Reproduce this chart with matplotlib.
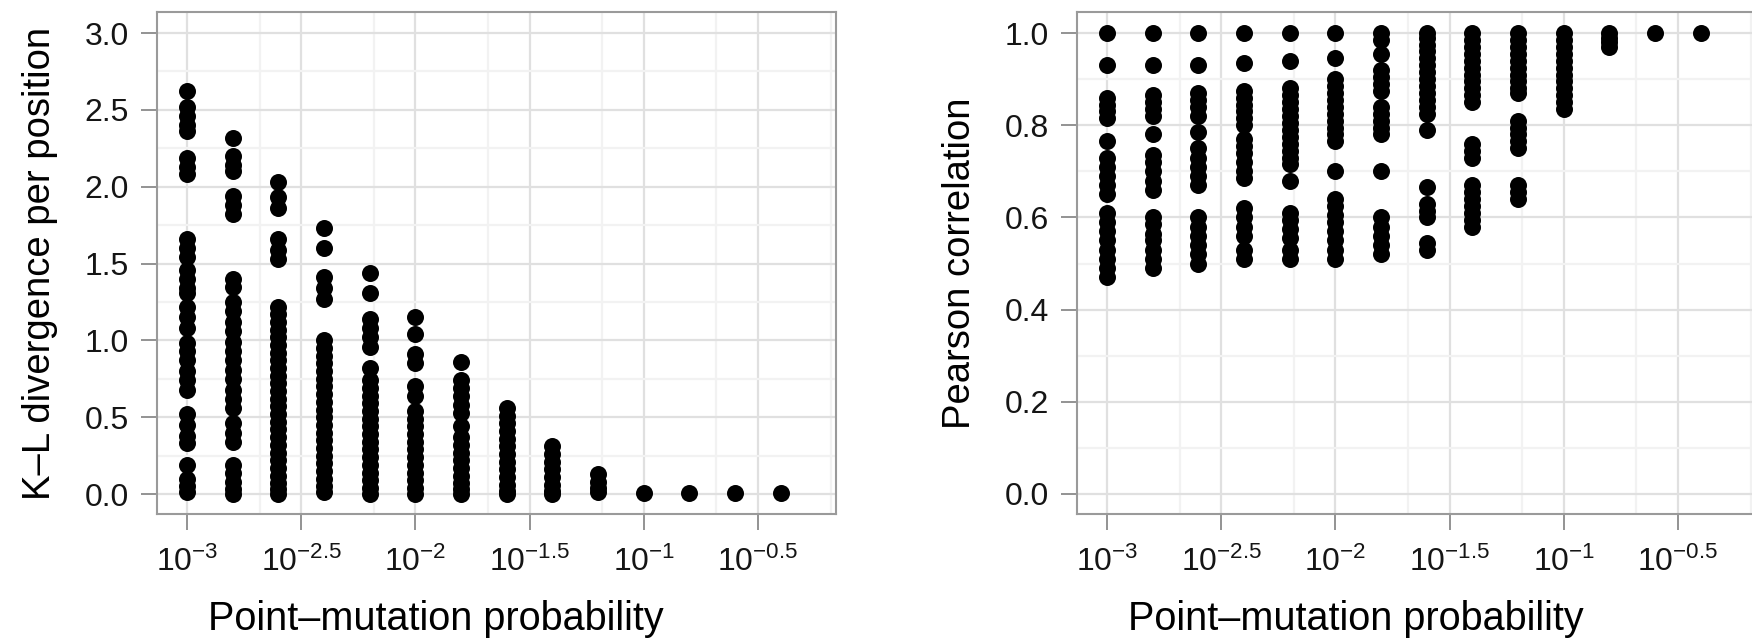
import numpy as np
import matplotlib.pyplot as plt
from matplotlib.ticker import FixedLocator, FixedFormatter

plt.rcParams['font.family'] = ['Liberation Sans', 'DejaVu Sans']
plt.rcParams['mathtext.fontset'] = 'custom'
plt.rcParams['mathtext.rm'] = 'Liberation Sans'
plt.rcParams['mathtext.it'] = 'Liberation Sans:italic'
plt.rcParams['mathtext.bf'] = 'Liberation Sans:bold'

# log10 of point-mutation probability, one column of runs per value
log_p = [-3.0, -2.8, -2.6, -2.4, -2.2, -2.0, -1.8, -1.6, -1.4, -1.2, -1.0, -0.8, -0.6, -0.4]

# K-L divergence per position
kl = [
    [2.62, 2.52, 2.46, 2.40, 2.36, 2.19, 2.13, 2.08, 1.66, 1.60, 1.54, 1.46, 1.40, 1.34, 1.31,
     1.22, 1.15, 1.08, 0.98, 0.93, 0.87, 0.80, 0.74, 0.68, 0.52, 0.45, 0.38, 0.33, 0.19, 0.10, 0.05, 0.01],
    [2.32, 2.20, 2.14, 2.10, 1.94, 1.88, 1.82, 1.40, 1.35, 1.25, 1.19, 1.12, 1.06, 0.99, 0.93,
     0.87, 0.81, 0.75, 0.68, 0.62, 0.56, 0.46, 0.40, 0.34, 0.19, 0.14, 0.08, 0.03, 0.0],
    [2.03, 1.93, 1.86, 1.66, 1.59, 1.53, 1.22, 1.17, 1.12, 1.07, 1.02, 0.97, 0.92, 0.87, 0.82,
     0.77, 0.72, 0.67, 0.62, 0.57, 0.52, 0.47, 0.42, 0.37, 0.32, 0.27, 0.22, 0.17, 0.12, 0.07, 0.03, 0.0],
    [1.73, 1.60, 1.41, 1.34, 1.27, 1.00, 0.95, 0.90, 0.85, 0.80, 0.75, 0.70, 0.65, 0.60, 0.55,
     0.50, 0.45, 0.40, 0.35, 0.30, 0.25, 0.20, 0.15, 0.10, 0.05, 0.01],
    [1.44, 1.31, 1.14, 1.08, 1.02, 0.96, 0.82, 0.74, 0.69, 0.64, 0.59, 0.54, 0.49, 0.44, 0.39,
     0.34, 0.29, 0.24, 0.19, 0.14, 0.09, 0.04, 0.0],
    [1.15, 1.04, 0.91, 0.85, 0.70, 0.64, 0.54, 0.49, 0.44, 0.39, 0.34, 0.29, 0.24, 0.19, 0.14,
     0.09, 0.04, 0.0],
    [0.86, 0.74, 0.69, 0.64, 0.58, 0.53, 0.44, 0.37, 0.32, 0.27, 0.22, 0.17, 0.12, 0.07, 0.03, 0.0],
    [0.56, 0.51, 0.46, 0.41, 0.36, 0.31, 0.26, 0.21, 0.16, 0.11, 0.06, 0.02, 0.0],
    [0.31, 0.26, 0.21, 0.16, 0.11, 0.06, 0.02, 0.0],
    [0.13, 0.08, 0.04, 0.01],
    [0.005],
    [0.005],
    [0.005],
    [0.005],
]

# Pearson correlation
pearson = [
    [1.0, 0.93, 0.86, 0.845, 0.83, 0.815, 0.765, 0.73, 0.71, 0.69, 0.67, 0.65, 0.61, 0.59, 0.57,
     0.55, 0.53, 0.51, 0.49, 0.47],
    [1.0, 0.93, 0.865, 0.85, 0.835, 0.82, 0.78, 0.735, 0.72, 0.70, 0.68, 0.66, 0.60, 0.585, 0.565,
     0.55, 0.53, 0.51, 0.49],
    [1.0, 0.93, 0.87, 0.855, 0.84, 0.82, 0.785, 0.75, 0.73, 0.71, 0.69, 0.67, 0.60, 0.58, 0.56,
     0.54, 0.52, 0.50],
    [1.0, 0.935, 0.875, 0.86, 0.845, 0.83, 0.815, 0.80, 0.77, 0.755, 0.74, 0.72, 0.70, 0.685, 0.62,
     0.60, 0.58, 0.56, 0.53, 0.51],
    [1.0, 0.94, 0.88, 0.865, 0.85, 0.835, 0.82, 0.805, 0.79, 0.775, 0.76, 0.745, 0.73, 0.715, 0.68,
     0.61, 0.595, 0.575, 0.555, 0.53, 0.51],
    [1.0, 0.945, 0.90, 0.885, 0.87, 0.855, 0.84, 0.825, 0.81, 0.795, 0.78, 0.765, 0.70, 0.64, 0.625,
     0.605, 0.59, 0.57, 0.55, 0.53, 0.51],
    [1.0, 0.985, 0.955, 0.92, 0.905, 0.89, 0.875, 0.84, 0.825, 0.81, 0.795, 0.78, 0.70, 0.60, 0.58,
     0.56, 0.54, 0.52],
    [1.0, 0.99, 0.975, 0.96, 0.945, 0.93, 0.915, 0.90, 0.885, 0.87, 0.855, 0.84, 0.825, 0.79, 0.665,
     0.63, 0.615, 0.60, 0.545, 0.53],
    [1.0, 0.985, 0.97, 0.955, 0.94, 0.925, 0.91, 0.895, 0.88, 0.865, 0.85, 0.76, 0.745, 0.73, 0.67,
     0.655, 0.64, 0.625, 0.61, 0.595, 0.58],
    [1.0, 0.985, 0.97, 0.955, 0.94, 0.925, 0.91, 0.895, 0.88, 0.87, 0.81, 0.795, 0.78, 0.765, 0.75,
     0.67, 0.655, 0.64],
    [1.0, 0.985, 0.97, 0.955, 0.94, 0.925, 0.91, 0.895, 0.88, 0.865, 0.85, 0.835],
    [1.0, 0.99, 0.98, 0.97],
    [1.0],
    [1.0],
]

x_tick_exp = [-3, -2.5, -2, -1.5, -1, -0.5]
x_tick_labels = [r'$10^{-3}$', r'$10^{-2.5}$', r'$10^{-2}$', r'$10^{-1.5}$', r'$10^{-1}$', r'$10^{-0.5}$']
kl_ticks = [0.0, 0.5, 1.0, 1.5, 2.0, 2.5, 3.0]
pearson_ticks = [0.0, 0.2, 0.4, 0.6, 0.8, 1.0]


def style_axis(ax, yticks, ylim, ylabel):
    ax.set_xscale('log')
    ax.set_xlim(10 ** -3.1316, 10 ** -0.158)
    ax.set_ylim(*ylim)

    majors = [10 ** e for e in x_tick_exp]
    # minor grid sits halfway between majors on the linear scale (old ggplot habit)
    edges = [10 ** -3.5] + majors + [1.0]
    minors = [(a + b) / 2 for a, b in zip(edges[:-1], edges[1:])]
    ax.xaxis.set_major_locator(FixedLocator(majors))
    ax.xaxis.set_major_formatter(FixedFormatter(x_tick_labels))
    ax.xaxis.set_minor_locator(FixedLocator(minors))

    ax.set_yticks(yticks)
    ax.set_yticklabels(['%.1f' % t for t in yticks])
    ymin = [(a + b) / 2 for a, b in zip(yticks[:-1], yticks[1:])]
    ax.yaxis.set_minor_locator(FixedLocator(ymin))

    ax.grid(which='major', color='#e0e0e0', lw=1.6, zorder=0)
    ax.grid(which='minor', color='#f2f2f2', lw=1.6, zorder=0)
    ax.set_axisbelow(True)

    for s in ax.spines.values():
        s.set_color('#9a9a9a')
        s.set_linewidth(1.5)

    ax.tick_params(which='major', length=11.5, width=1.3, color='#8a8a8a',
                   labelsize=23, labelcolor='#151515')
    ax.tick_params(axis='y', pad=8.5)
    ax.tick_params(axis='x', pad=12)
    ax.tick_params(which='minor', length=0)

    ax.set_xlabel('Point\u2013mutation probability', fontsize=28.5)
    ax.xaxis.set_label_coords(0.41, -0.172)
    ax.set_ylabel(ylabel, fontsize=27.5)
    ax.yaxis.set_label_coords(-0.146, 0.5)


fig = plt.figure(figsize=(17.52, 6.41), dpi=100)
ax1 = fig.add_axes([157 / 1752, 127 / 641, 679 / 1752, 502 / 641])
ax2 = fig.add_axes([1077 / 1752, 127 / 641, 679 / 1752, 502 / 641])

for lp, vals in zip(log_p, kl):
    ax1.scatter(np.full(len(vals), 10 ** lp), vals, s=150, color='black', linewidths=0, zorder=3)
for lp, vals in zip(log_p, pearson):
    ax2.scatter(np.full(len(vals), 10 ** lp), vals, s=150, color='black', linewidths=0, zorder=3)

style_axis(ax1, kl_ticks, (-0.13, 3.137), 'K\u2013L divergence per position')
style_axis(ax2, pearson_ticks, (-0.0435, 1.0457), 'Pearson correlation')

fig.savefig('out.png', dpi=100)
